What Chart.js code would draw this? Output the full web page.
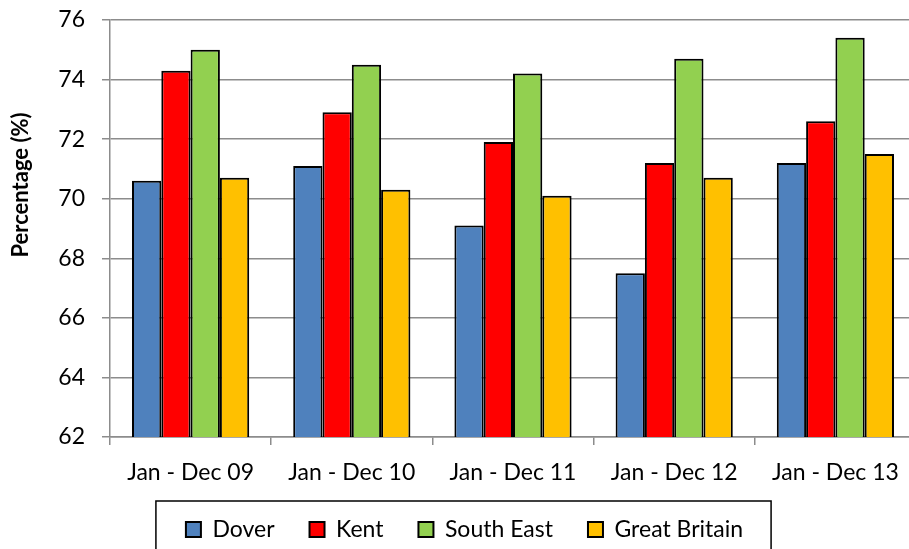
<!DOCTYPE html>
<html>
<head>
  <meta charset="utf-8">
  <title>Percentage chart</title>
  <script src="https://cdn.jsdelivr.net/npm/chart.js"></script>
  <style>
    html, body { margin: 0; padding: 0; background: #fff; overflow: hidden; }
    #wrap { position: relative; width: 916px; height: 551px; }
  </style>
</head>
<body>
  <div id="wrap"><canvas id="chart"></canvas></div>
  <script>
    // data
    const periods = ['Jan - Dec 09', 'Jan - Dec 10', 'Jan - Dec 11', 'Jan - Dec 12', 'Jan - Dec 13'];
    const dover = [70.6, 71.1, 69.1, 67.5, 71.2];
    const kent = [74.3, 72.9, 71.9, 71.2, 72.6];
    const southEast = [75.0, 74.5, 74.2, 74.7, 75.4];
    const greatBritain = [70.7, 70.3, 70.1, 70.7, 71.5];
    const yTicks = [62, 64, 66, 68, 70, 72, 74, 76];

    const FONT = 'Lato, "Liberation Sans", sans-serif';
    const GRID = '#8c8c8c';

    function ds(label, data, color) {
      return {
        label: label,
        data: data,
        backgroundColor: color,
        borderColor: '#000',
        borderWidth: 2,
        borderSkipped: false,
        barPercentage: 1,
        categoryPercentage: 0.727
      };
    }

    // y title drawn by hand so it sits where the original has it
    const yTitle = {
      id: 'yTitle',
      afterDraw(chart) {
        const ctx = chart.ctx;
        const a = chart.chartArea;
        ctx.save();
        ctx.translate(21, a.top + 165);
        ctx.rotate(-Math.PI / 2);
        ctx.font = 'bold 22px ' + FONT;
        ctx.fillStyle = '#000';
        ctx.textAlign = 'center';
        ctx.textBaseline = 'middle';
        ctx.fillText('Percentage (%)', 0, 0);
        ctx.restore();
      }
    };

    // box around the legend
    const legendBox = {
      id: 'legendBox',
      afterDraw(chart) {
        const boxes = chart.legend.legendHitBoxes;
        if (!boxes || !boxes.length) return;
        let l = Infinity, r = -Infinity, t = Infinity, b = -Infinity;
        boxes.forEach(h => {
          l = Math.min(l, h.left); r = Math.max(r, h.left + h.width);
          t = Math.min(t, h.top); b = Math.max(b, h.top + h.height);
        });
        const ctx = chart.ctx;
        ctx.save();
        ctx.strokeStyle = '#000';
        ctx.lineWidth = 1.5;
        ctx.strokeRect(l - 30, t - 17, (r - l) + 58, (b - t) + 40);
        ctx.restore();
      }
    };

    new Chart(document.getElementById('chart'), {
      type: 'bar',
      data: {
        labels: periods,
        datasets: [
          ds('Dover', dover, '#4F81BD'),
          ds('Kent', kent, '#FF0000'),
          ds('South East', southEast, '#92D050'),
          ds('Great Britain', greatBritain, '#FFC000')
        ]
      },
      options: {
        responsive: true,
        maintainAspectRatio: false,
        animation: false,
        layout: { padding: { top: 20, left: 13, right: 0, bottom: 0 } },
        scales: {
          x: {
            grid: { display: true, drawOnChartArea: false, drawTicks: true, tickLength: 8, color: GRID, lineWidth: 1.5, offset: true },
            border: { display: true, color: GRID, width: 1.5 },
            ticks: { color: '#000', font: { family: FONT, size: 23 }, padding: 14, maxRotation: 0 },
            afterFit(scale) { scale.height = 46; }
          },
          y: {
            min: 62,
            max: 76,
            afterBuildTicks(scale) { scale.ticks = yTicks.map(v => ({ value: v })); },
            grid: { color: GRID, lineWidth: 1.5, tickLength: 8 },
            border: { display: true, color: GRID, width: 1.5 },
            ticks: { color: '#000', font: { family: FONT, size: 23 }, padding: 17 },
            afterFit(scale) {
              scale.width = 97;
              scale.paddingTop = 0;
              scale.paddingBottom = 0;
            }
          }
        },
        plugins: {
          legend: {
            position: 'bottom',
            labels: {
              color: '#000',
              font: { family: FONT, size: 23 },
              boxWidth: 15,
              boxHeight: 15,
              padding: 35
            }
          },
          tooltip: { enabled: false }
        }
      },
      plugins: [yTitle, legendBox]
    });
  </script>
</body>
</html>
